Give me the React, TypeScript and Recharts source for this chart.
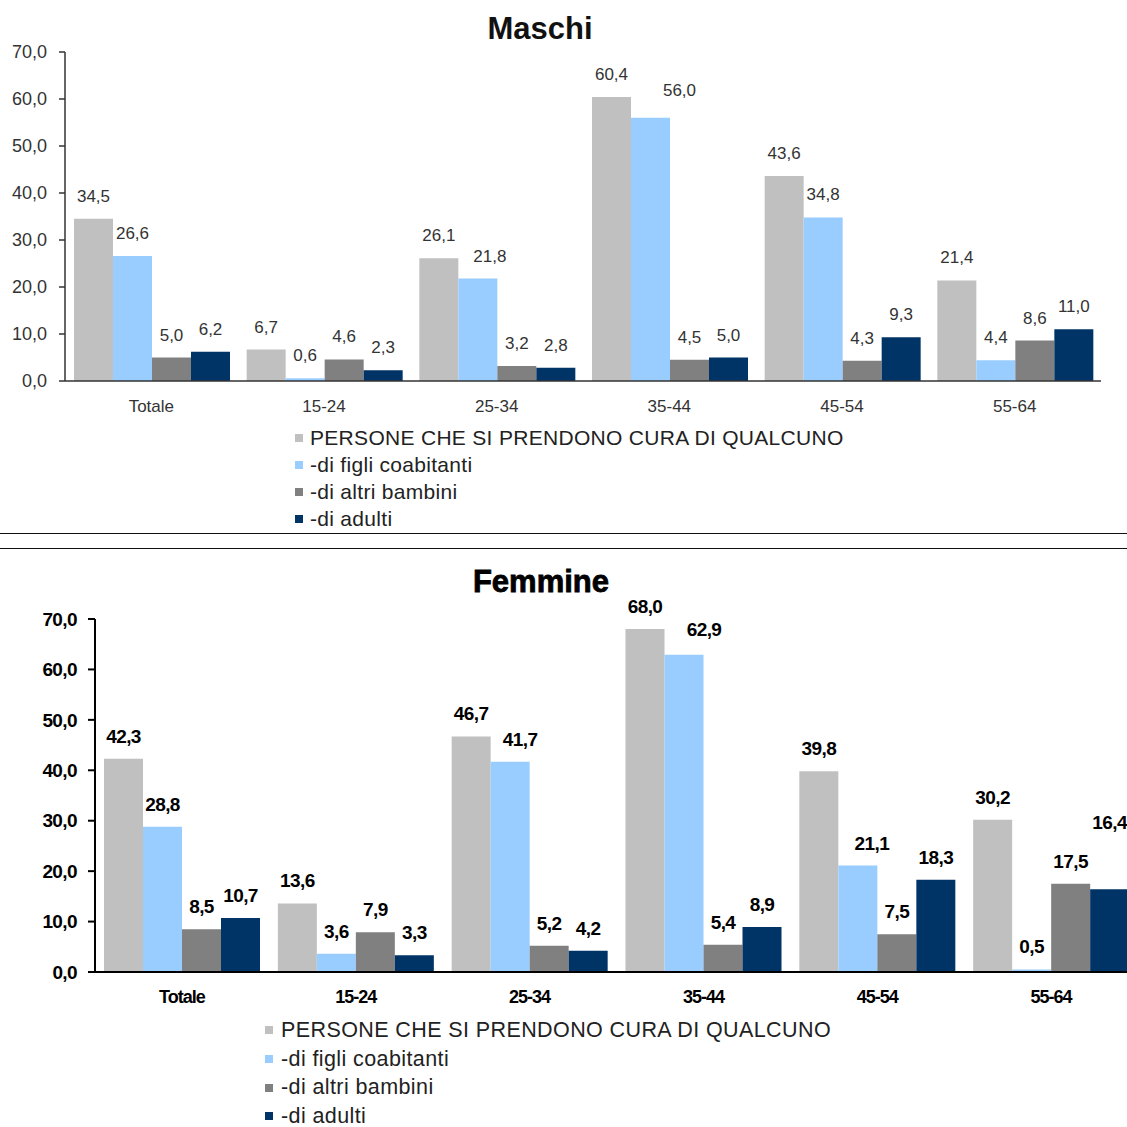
import React from 'react';
import { BarChart, Bar, XAxis, YAxis, Legend, LabelList } from 'recharts';

const categories = ['Totale', '15-24', '25-34', '35-44', '45-54', '55-64'];
const seriesKeys = ['persone', 'figli', 'bambini', 'adulti'];
const seriesNames = [
  'PERSONE CHE SI PRENDONO CURA DI QUALCUNO',
  '-di figli coabitanti',
  '-di altri bambini',
  '-di adulti',
];
const seriesColors = ['#C0C0C0', '#99CCFF', '#808080', '#003366'];

const maschiPersone = [34.5, 6.7, 26.1, 60.4, 43.6, 21.4];
const maschiFigli = [26.6, 0.6, 21.8, 56.0, 34.8, 4.4];
const maschiBambini = [5.0, 4.6, 3.2, 4.5, 4.3, 8.6];
const maschiAdulti = [6.2, 2.3, 2.8, 5.0, 9.3, 11.0];

const femminePersone = [42.3, 13.6, 46.7, 68.0, 39.8, 30.2];
const femmineFigli = [28.8, 3.6, 41.7, 62.9, 21.1, 0.5];
const femmineBambini = [8.5, 7.9, 5.2, 5.4, 7.5, 17.5];
const femmineAdulti = [10.7, 3.3, 4.2, 8.9, 18.3, 16.4];

const yTicks = [0, 10, 20, 30, 40, 50, 60, 70];

const buildRows = (a: number[], b: number[], c: number[], d: number[]) =>
  categories.map((cat, i) => ({ cat, persone: a[i], figli: b[i], bambini: c[i], adulti: d[i] }));

const maschiData = buildRows(maschiPersone, maschiFigli, maschiBambini, maschiAdulti);
const femmineData = buildRows(femminePersone, femmineFigli, femmineBambini, femmineAdulti);

// label nudges (as in the original layout)
const maschiNudges: Record<string, [number, number]> = {
  '35-44|figli': [29, -5],
  '25-34|figli': [12, 0],
};
const femmineNudges: Record<string, [number, number]> = {
  '35-44|figli': [20, -3],
  '25-34|figli': [10, 0],
  '45-54|figli': [14, 0],
  '55-64|adulti': [0, -44],
};

const FONT = '"Liberation Sans", Arial, sans-serif';
const fmt = (v: number) => Number(v).toFixed(1).replace('.', ',');

type LabelStyle = { offset: number; fontSize: number; fontWeight: number; fill: string; letterSpacing: number };

const makeLabel = (key: string, nudges: Record<string, [number, number]>, st: LabelStyle) => (props: any) => {
  const { x, y, width, value, index } = props;
  const n = nudges[`${categories[index]}|${key}`] || [0, 0];
  return (
    <text
      x={Number(x) + Number(width) / 2 + n[0]}
      y={Number(y) - st.offset + n[1]}
      textAnchor="middle"
      fontFamily={FONT}
      fontSize={st.fontSize}
      fontWeight={st.fontWeight}
      fill={st.fill}
      letterSpacing={st.letterSpacing}
    >
      {fmt(Number(value))}
    </text>
  );
};

const makeLegend = (fontSize: number, rowH: number, gap: number, letterSpacing: number) => (props: any) => {
  const payload = [...(props.payload || [])].sort(
    (a: any, b: any) => seriesNames.indexOf(a.value) - seriesNames.indexOf(b.value)
  );
  return (
    <div style={{ display: 'flex', flexDirection: 'column' }}>
      {payload.map((p: any) => (
        <div
          key={p.value}
          style={{
            height: rowH,
            display: 'flex',
            alignItems: 'center',
            fontFamily: FONT,
            fontSize,
            color: '#222',
            whiteSpace: 'nowrap',
            letterSpacing,
          }}
        >
          <span style={{ width: 8, height: 8, background: p.color, marginRight: gap, display: 'inline-block' }} />
          {p.value}
        </div>
      ))}
    </div>
  );
};

const topLabel: LabelStyle = { offset: 17, fontSize: 17, fontWeight: 400, fill: '#333', letterSpacing: 0 };
const botLabel: LabelStyle = { offset: 16, fontSize: 19, fontWeight: 700, fill: '#000', letterSpacing: -0.6 };

export default function App() {
  return (
    <div
      style={{
        position: 'absolute',
        left: 0,
        top: 0,
        width: 1127,
        height: 1127,
        overflow: 'hidden',
        background: '#fff',
      }}
    >
      <div
        style={{
          position: 'absolute',
          left: 0,
          width: 1080,
          top: 13,
          textAlign: 'center',
          fontFamily: FONT,
          fontWeight: 700,
          fontSize: 31,
          lineHeight: '31px',
          color: '#111',
        }}
      >
        Maschi
      </div>

      <div style={{ position: 'absolute', left: 0, top: 0 }}>
        <BarChart
          width={1127}
          height={530}
          data={maschiData}
          margin={{ top: 52, right: 26, left: 0, bottom: 109 }}
          barCategoryGap={9}
          barGap={0}
        >
          <XAxis
            dataKey="cat"
            tickLine={false}
            tickSize={0}
            tickMargin={19}
            height={40}
            axisLine={{ stroke: '#333', strokeWidth: 1.5 }}
            tick={{ fontFamily: FONT, fontSize: 17, fill: '#333' }}
            interval={0}
          />
          <YAxis
            width={65}
            domain={[0, 70]}
            ticks={yTicks}
            interval={0}
            tickFormatter={fmt}
            tickSize={6}
            tickMargin={12}
            axisLine={{ stroke: '#333', strokeWidth: 1.5 }}
            tickLine={{ stroke: '#333', strokeWidth: 1.5 }}
            tick={{ fontFamily: FONT, fontSize: 18, fill: '#333' }}
          />
          {seriesKeys.map((k, i) => (
            <Bar key={k} dataKey={k} name={seriesNames[i]} fill={seriesColors[i]} isAnimationActive={false}>
              <LabelList dataKey={k} content={makeLabel(k, maschiNudges, topLabel)} />
            </Bar>
          ))}
          <Legend
            layout="vertical"
            align="center"
            verticalAlign="middle"
            content={makeLegend(21, 27, 7, 0.3)}
            wrapperStyle={{ left: 295, top: 424, width: 'auto' }}
          />
        </BarChart>
      </div>

      <div style={{ position: 'absolute', left: 0, top: 533, width: 1127, borderTop: '1.5px solid #111' }} />
      <div style={{ position: 'absolute', left: 0, top: 548, width: 1127, borderTop: '1.5px solid #111' }} />

      <div
        style={{
          position: 'absolute',
          left: 0,
          width: 1082,
          top: 566,
          textAlign: 'center',
          fontFamily: FONT,
          fontWeight: 700,
          fontSize: 31,
          lineHeight: '31px',
          color: '#000',
          WebkitTextStroke: '0.8px #000',
        }}
      >
        Femmine
      </div>

      <div style={{ position: 'absolute', left: 0, top: 550 }}>
        <BarChart
          width={1150}
          height={577}
          data={femmineData}
          margin={{ top: 69, right: 12, left: 0, bottom: 115 }}
          barCategoryGap={9}
          barGap={0}
        >
          <XAxis
            dataKey="cat"
            tickLine={false}
            tickSize={0}
            tickMargin={18}
            height={40}
            axisLine={{ stroke: '#000', strokeWidth: 2 }}
            tick={{ fontFamily: FONT, fontSize: 18, fontWeight: 700, fill: '#000', letterSpacing: -1 }}
            interval={0}
          />
          <YAxis
            width={95}
            domain={[0, 70]}
            ticks={yTicks}
            interval={0}
            tickFormatter={fmt}
            tickSize={7}
            tickMargin={11}
            axisLine={{ stroke: '#000', strokeWidth: 2 }}
            tickLine={{ stroke: '#000', strokeWidth: 2 }}
            tick={{ fontFamily: FONT, fontSize: 19, fontWeight: 700, fill: '#000', letterSpacing: -0.6 }}
          />
          {seriesKeys.map((k, i) => (
            <Bar key={k} dataKey={k} name={seriesNames[i]} fill={seriesColors[i]} isAnimationActive={false}>
              <LabelList dataKey={k} content={makeLabel(k, femmineNudges, botLabel)} />
            </Bar>
          ))}
          <Legend
            layout="vertical"
            align="center"
            verticalAlign="middle"
            content={makeLegend(21.5, 28.7, 8, 0.4)}
            wrapperStyle={{ left: 265, top: 466, width: 'auto' }}
          />
        </BarChart>
      </div>
    </div>
  );
}
